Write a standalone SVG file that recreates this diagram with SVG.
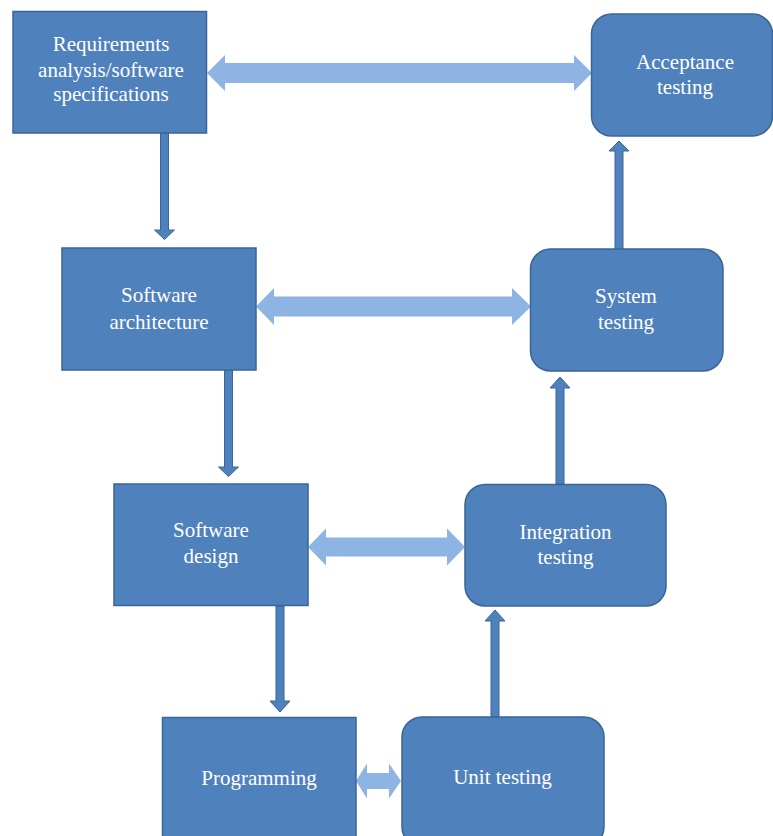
<svg xmlns="http://www.w3.org/2000/svg" width="773" height="836" viewBox="0 0 773 836">
  <style>
    .box { fill: #4f81bd; stroke: #3a6596; stroke-width: 1.5; }
    .lbl { font-family: "Liberation Serif", "Times New Roman", serif; font-size: 21px; fill: #ffffff; text-anchor: middle; }
    .wide { fill: #8eb4e3; }
    .flow { fill: #4f81bd; stroke: #3a6596; stroke-width: 1; }
  </style>
  <rect width="773" height="836" fill="#ffffff"/>

  <g id="connectors">
    <!-- two-way links between each design stage and its test stage -->
    <polygon class="wide" points="207,73 225,55 225,63 574,63 574,55 592,73 574,91 574,83 225,83 225,91"/>
    <polygon class="wide" points="256,306.5 274,288 274,296.5 512,296.5 512,288 531,306.5 512,325 512,316.5 274,316.5 274,325"/>
    <polygon class="wide" points="308,547 326,528.5 326,537.5 447,537.5 447,528.5 465,547 447,565.5 447,556.5 326,556.5 326,565.5"/>
    <polygon class="wide" points="356,781 367,763.5 367,773 389,773 389,763.5 401,781 389,798.5 389,789 367,789 367,798.5"/>

    <!-- downward flow through the design stages -->
    <polygon class="flow" points="160.5,133 168.5,133 168.5,230 174.5,230 164.5,239.5 154.5,230 160.5,230"/>
    <polygon class="flow" points="224.5,370 232.5,370 232.5,467 238.5,467 228.5,476.5 218.5,467 224.5,467"/>
    <polygon class="flow" points="276,606 284,606 284,701 290,701 280,712 270,701 276,701"/>

    <!-- upward flow through the test stages -->
    <polygon class="flow" points="491,717 499,717 499,621 505,621 495,610 485,621 491,621"/>
    <polygon class="flow" points="556,484 564,484 564,388 570,388 560,377 550,388 556,388"/>
    <polygon class="flow" points="615,249 623,249 623,151 629,151 619,141 609,151 615,151"/>
  </g>

  <g id="requirements">
    <rect class="box" x="13" y="11.5" width="193.5" height="121.5"/>
    <text class="lbl" x="111" y="51">Requirements</text>
    <text class="lbl" x="111" y="76.5">analysis/software</text>
    <text class="lbl" x="111" y="101">specifications</text>
  </g>

  <g id="acceptance-testing">
    <rect class="box" x="591.5" y="14" width="181" height="122" rx="20" ry="20"/>
    <text class="lbl" x="685" y="68.5">Acceptance</text>
    <text class="lbl" x="685" y="93.5">testing</text>
  </g>

  <g id="software-architecture">
    <rect class="box" x="62" y="248" width="194" height="122"/>
    <text class="lbl" x="159" y="302">Software</text>
    <text class="lbl" x="159" y="328.5">architecture</text>
  </g>

  <g id="system-testing">
    <rect class="box" x="530.5" y="249" width="192.5" height="122" rx="20" ry="20"/>
    <text class="lbl" x="626" y="303">System</text>
    <text class="lbl" x="626" y="328.5">testing</text>
  </g>

  <g id="software-design">
    <rect class="box" x="114" y="484" width="194" height="121.5"/>
    <text class="lbl" x="211" y="537">Software</text>
    <text class="lbl" x="211" y="563">design</text>
  </g>

  <g id="integration-testing">
    <rect class="box" x="465" y="484.5" width="201" height="121.5" rx="20" ry="20"/>
    <text class="lbl" x="565.5" y="538.5">Integration</text>
    <text class="lbl" x="565.5" y="563.5">testing</text>
  </g>

  <g id="programming">
    <rect class="box" x="162.5" y="717.5" width="193.5" height="130"/>
    <text class="lbl" x="259" y="784.5">Programming</text>
  </g>

  <g id="unit-testing">
    <rect class="box" x="402" y="717" width="202" height="130" rx="20" ry="20"/>
    <text class="lbl" x="502.5" y="784">Unit testing</text>
  </g>
</svg>
